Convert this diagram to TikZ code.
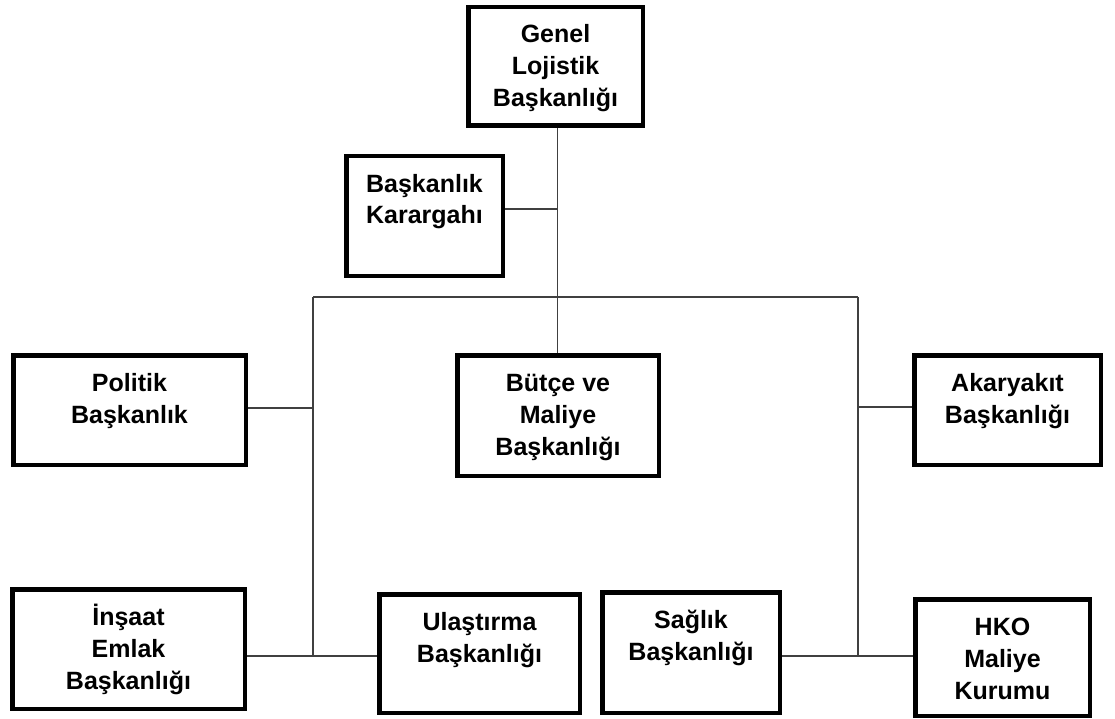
\documentclass[tikz,border=0pt]{standalone}
\usepackage{fontspec}
\setmainfont{Liberation Sans}
\begin{document}
\begin{tikzpicture}[x=1pt,y=-1pt,
  box/.style={draw=black,line width=4.5pt,fill=white,inner sep=0pt,rectangle},
  lbl/.style={anchor=north,inner sep=0pt,align=center,yshift=-15.4pt,
    font=\fontsize{25}{32}\selectfont\bfseries},
  conn/.style={draw=black!75,line width=1.3pt}]
\useasboundingbox[fill=white] (0,0) rectangle (1115,719);
% boxes (outer size minus line width)
\node[box,minimum width=174.5pt,minimum height=118.5pt] (genel) at (555.5,66.5) {};
\node[box,minimum width=156.5pt,minimum height=119.5pt] (karargah) at (424.5,216) {};
\node[box,minimum width=232.5pt,minimum height=109.5pt] (politik) at (129.5,410) {};
\node[box,minimum width=201.5pt,minimum height=120.5pt] (butce) at (558,415.5) {};
\node[box,minimum width=186.5pt,minimum height=109.5pt] (akaryakit) at (1007.5,410) {};
\node[box,minimum width=232.5pt,minimum height=119.5pt] (insaat) at (128.5,649) {};
\node[box,minimum width=200.5pt,minimum height=118.5pt] (ulastirma) at (479.5,653.5) {};
\node[box,minimum width=177.5pt,minimum height=120.5pt] (saglik) at (691,652.5) {};
\node[box,minimum width=174.5pt,minimum height=116.5pt] (hko) at (1002.5,657.5) {};
% labels
\node[lbl] (tgenel) at (genel.north) {\strut Genel\\Lojistik\\Başkanlığı};
\node[lbl] (tkarargah) at (karargah.north) {\strut Başkanlık\\Karargahı};
\node[lbl] (tpolitik) at (politik.north) {\strut Politik\\Başkanlık};
\node[lbl] (tbutce) at (butce.north) {\strut Bütçe ve\\Maliye\\Başkanlığı};
\node[lbl] (takaryakit) at (akaryakit.north) {\strut Akaryakıt\\Başkanlığı};
\node[lbl] (tinsaat) at (insaat.north) {\strut İnşaat\\Emlak\\Başkanlığı};
\node[lbl] (tulastirma) at (ulastirma.north) {\strut Ulaştırma\\Başkanlığı};
\node[lbl] (tsaglik) at (saglik.north) {\strut Sağlık\\Başkanlığı};
\node[lbl] (thko) at (hko.north) {\strut HKO\\Maliye\\Kurumu};
% junction coordinates
\coordinate (top) at (557.5,297);
\coordinate (kj) at (557.5,209);
\coordinate (lt) at (313,297);
\coordinate (rt) at (858,297);
\coordinate (lp) at (313,408);
\coordinate (rp) at (858,407);
\coordinate (lb) at (313,656);
\coordinate (rb) at (858,656);
% connectors
\begin{scope}[on background layer/.style={}]
\draw[conn] (genel.south -| top) -- (butce.north -| top);
\draw[conn] (karargah.east |- kj) -- (kj);
\draw[conn] (lt) -- (rt);
\draw[conn] (lt) -- (lb);
\draw[conn] (rt) -- (rb);
\draw[conn] (politik.east |- lp) -- (lp);
\draw[conn] (akaryakit.west |- rp) -- (rp);
\draw[conn] (insaat.east |- lb) -- (ulastirma.west |- lb);
\draw[conn] (saglik.east |- rb) -- (hko.west |- rb);
\end{scope}
\end{tikzpicture}
\end{document}
